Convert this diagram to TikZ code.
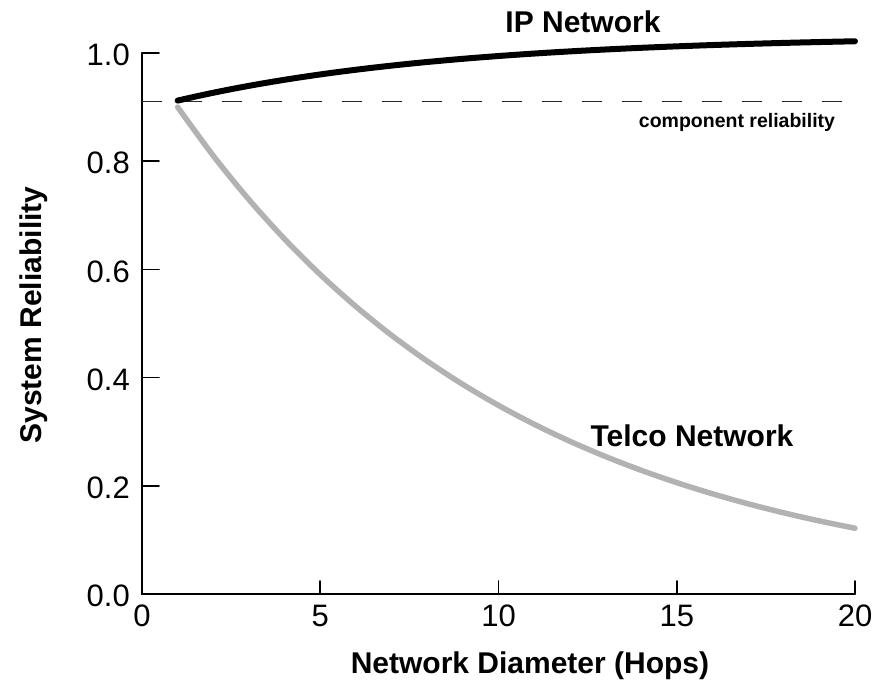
\documentclass[tikz,border=0pt]{standalone}
\usepackage{fontspec}
\setmainfont{Liberation Sans}
\usepackage{tikz}

\begin{document}
\begin{tikzpicture}[x=35.65pt,y=541pt,line cap=round,
	axisline/.style={line width=1.7pt},
	ticklabel/.style={font=\fontsize{31}{31}\selectfont,inner sep=0pt},
	curvelabel/.style={font=\fontsize{30}{30}\selectfont\bfseries,inner sep=0pt,anchor=base}]
\useasboundingbox (-142pt,-86pt) rectangle (735pt,594pt);

%axes
\coordinate (origin) at (0,0);
\coordinate (ytop) at (0,1);
\coordinate (xend) at (20,0);
\draw[axisline] (ytop) -- (origin) -- (xend);

%ticks and tick labels
\foreach \x in {0,5,...,20}{
	\ifnum\x>0
		\draw[axisline] (\x,0) -- ++(0,13pt);
	\fi
	\node[ticklabel,anchor=north,yshift=-11pt] (xlab\x) at (\x,0) {\x};}

\foreach \y/\lab in {0/0.0,0.2/0.2,0.4/0.4,0.6/0.6,0.8/0.8,1/1.0}{
	\draw[axisline] (0,\y) -- ++(17pt,0);
	\node[ticklabel,anchor=east,xshift=-12pt,yshift=-2pt] (ylab\lab) at (0,\y) {\lab};}

%component reliability
\coordinate (compstart) at (0,0.91);
\coordinate (compend) at (20,0.91);
\draw[line width=1.1pt,black!85,dash pattern=on 20pt off 20pt,line cap=butt] (compstart) -- (compend);

%curves
\draw[line width=5.5pt,black!30] plot[domain=1:20,samples=20,smooth] (\x,{0.9^\x});
\draw[line width=6pt,black] plot[domain=1:20,samples=40,smooth] (\x,{1.032-0.12*exp(-0.129*(\x-1))});

%labels
\node[curvelabel] (ipnet) at (441pt,561pt) {IP Network};
\node[curvelabel] (telco) at (550pt,147pt) {Telco Network};
\node[curvelabel,font=\fontsize{19.5}{19.5}\selectfont\bfseries] (comp) at (595pt,466pt) {component reliability};
\node[curvelabel] (xtitle) at (388pt,-79pt) {Network Diameter (Hops)};
\node[curvelabel,rotate=90] (ytitle) at (-100pt,279pt) {System Reliability};
\end{tikzpicture}
\end{document}
